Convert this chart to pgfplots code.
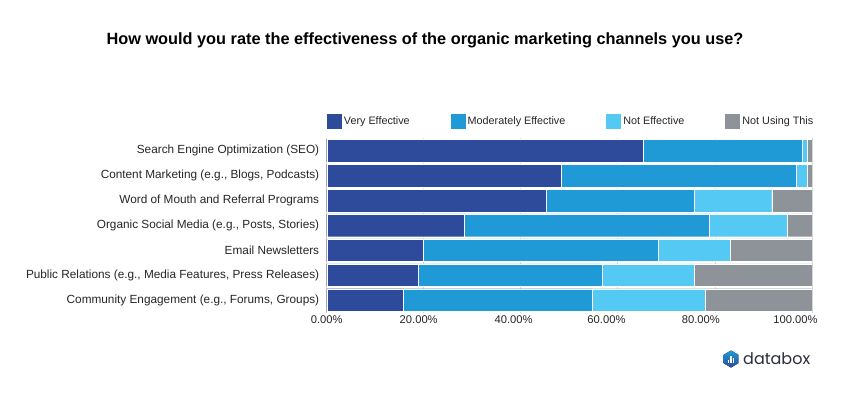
\documentclass[border=0pt]{standalone}
\usepackage{fontspec}
\setmainfont{Liberation Sans}
\newfontfamily\logofont{Poppins}
\usepackage{pgfplots}
\pgfplotsset{compat=1.18}
\definecolor{ve}{HTML}{2E4A9A}
\definecolor{me}{HTML}{1F9AD6}
\definecolor{ne}{HTML}{54C9F4}
\definecolor{nu}{HTML}{8E9299}
\definecolor{txt}{HTML}{262626}
\definecolor{gridc}{HTML}{D8D8D8}
\definecolor{logoc}{HTML}{2B2D3A}
\begin{document}
\begin{tikzpicture}
\useasboundingbox (0,0) rectangle (850pt,-400pt);
\fill[white] (0,0) rectangle (850pt,-400pt);
\node[font=\bfseries\fontsize{16.3}{19}\selectfont, text=black] at (425pt,-40pt) {How would you rate the effectiveness of the organic marketing channels you use?};
\begin{axis}[
  at={(326.7pt,-312.5pt)}, anchor=south west,
  scale only axis, width=485.3pt, height=174.4pt,
  xbar stacked, bar width=22.7pt,
  xmin=0, xmax=100, ymin=-0.5, ymax=6.5, y dir=reverse,
  ytick={0,1,2,3,4,5,6},
  yticklabels={{Search Engine Optimization (SEO)},{Content Marketing (e.g., Blogs, Podcasts)},{Word of Mouth and Referral Programs},{Organic Social Media (e.g., Posts, Stories)},{Email Newsletters},{Public Relations (e.g., Media Features, Press Releases)},{Community Engagement (e.g., Forums, Groups)}},
  yticklabel style={font=\fontsize{11.8}{14}\selectfont, text=txt, xshift=-4pt},
  xtick={0,18.96,38.5,57.65,77.1,96.6},
  xticklabels={0.00\%,20.00\%,40.00\%,60.00\%,80.00\%,100.00\%},
  xticklabel style={font=\fontsize{11.2}{13}\selectfont, text=txt},
  extra x ticks={0,20,40,60,80,100},
  extra x tick labels={},
  extra x tick style={grid=major},
  major grid style={draw=gridc, line width=0.8pt},
  axis line style={draw=none},
  tick style={draw=none},
  legend columns=4,
  legend style={at={(0,1)}, anchor=south west, yshift=9pt, xshift=0pt, draw=none, fill=none, inner sep=0pt,
    font=\fontsize{10.8}{12}\selectfont, text=txt,
    /tikz/every even column/.append style={column sep=39pt},
    cells={anchor=west}},
  legend image code/.code={\fill[#1, draw=none] (0pt,-7.5pt) rectangle (15pt,7.5pt);},
]
\addplot[fill=ve, draw=white, line width=0.3pt] coordinates {(65.2,0) (48.3,1) (45.3,2) (28.4,3) (19.9,4) (18.9,5) (15.8,6)};
\addplot[fill=me, draw=white, line width=0.3pt] coordinates {(32.7,0) (48.5,1) (30.4,2) (50.5,3) (48.4,4) (37.8,5) (38.9,6)};
\addplot[fill=ne, draw=white, line width=0.3pt] coordinates {(1.1,0) (2.2,1) (16.0,2) (15.9,3) (14.9,4) (19.0,5) (23.2,6)};
\addplot[fill=nu, draw=white, line width=0.3pt] coordinates {(1.0,0) (1.0,1) (8.3,2) (5.2,3) (16.8,4) (24.3,5) (22.1,6)};
\legend{Very Effective, Moderately Effective, Not Effective, Not Using This}
\end{axis}
% databox logo
\begin{scope}[shift={(731pt,-359pt)}]
\fill[top color=me, bottom color=ve] (90:8.5pt) -- (150:8.5pt) -- (210:8.5pt) -- (270:8.5pt) -- (330:8.5pt) -- (30:8.5pt) -- cycle;
\fill[white] (-3.2pt,-4pt) rectangle (-1.6pt,-1pt);
\fill[white] (-0.8pt,-4pt) rectangle (0.8pt,3pt);
\fill[white] (1.6pt,-4pt) rectangle (3.2pt,1pt);
\end{scope}
\node[anchor=west, font=\logofont\fontsize{16}{18}\selectfont, text=logoc, inner sep=0pt] at (743pt,-359pt) {databox};
\end{tikzpicture}
\end{document}
